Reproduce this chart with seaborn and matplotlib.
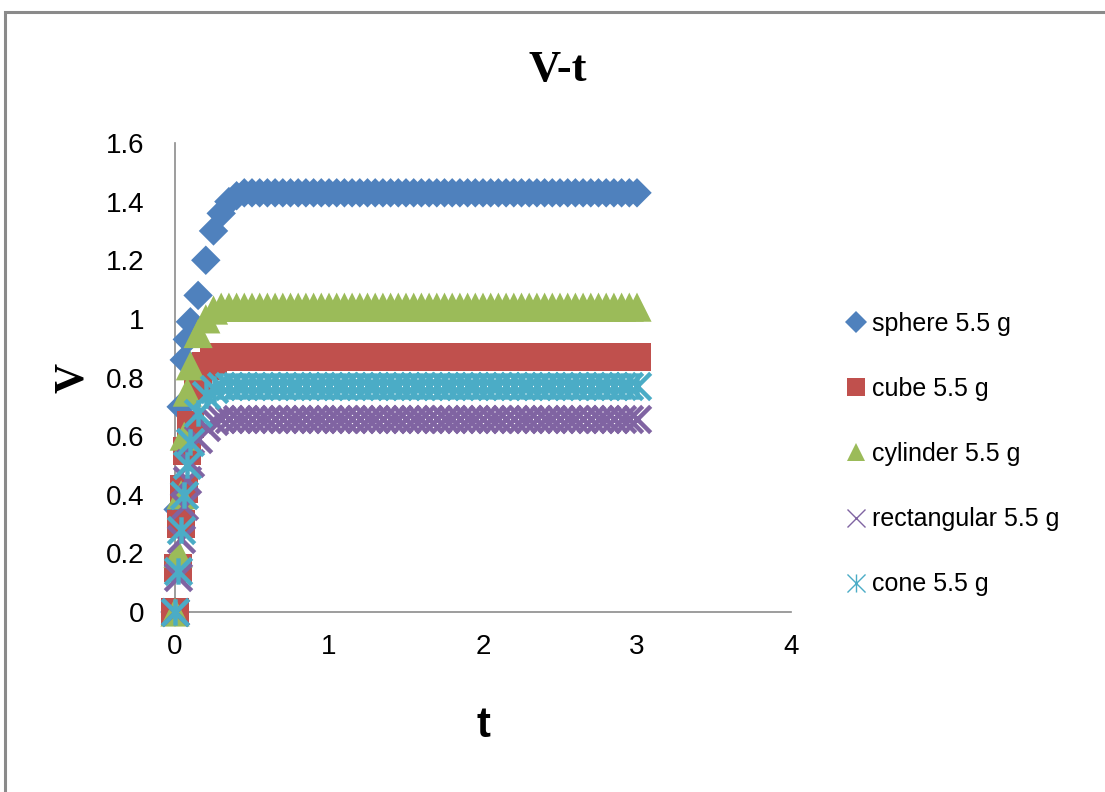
import matplotlib
matplotlib.use("Agg")
import matplotlib.pyplot as plt
import seaborn as sns
from matplotlib.path import Path
from matplotlib.lines import Line2D
from matplotlib.patches import Rectangle

# ---------------- data ----------------
t = [0.0, 0.02, 0.04, 0.06, 0.08, 0.1,
     0.15, 0.2, 0.25, 0.3, 0.35, 0.4, 0.45,
     0.5, 0.55, 0.6, 0.65, 0.7, 0.75, 0.8, 0.85, 0.9, 0.95,
     1.0, 1.05, 1.1, 1.15, 1.2, 1.25, 1.3, 1.35, 1.4, 1.45,
     1.5, 1.55, 1.6, 1.65, 1.7, 1.75, 1.8, 1.85, 1.9, 1.95,
     2.0, 2.05, 2.1, 2.15, 2.2, 2.25, 2.3, 2.35, 2.4, 2.45,
     2.5, 2.55, 2.6, 2.65, 2.7, 2.75, 2.8, 2.85, 2.9, 2.95,
     3.0]

sphere = [0.0, 0.35, 0.70, 0.86, 0.93, 0.99,
          1.08, 1.20, 1.30, 1.36, 1.40, 1.42, 1.43,
          1.43, 1.43, 1.43, 1.43, 1.43, 1.43, 1.43, 1.43, 1.43, 1.43,
          1.43, 1.43, 1.43, 1.43, 1.43, 1.43, 1.43, 1.43, 1.43, 1.43,
          1.43, 1.43, 1.43, 1.43, 1.43, 1.43, 1.43, 1.43, 1.43, 1.43,
          1.43, 1.43, 1.43, 1.43, 1.43, 1.43, 1.43, 1.43, 1.43, 1.43,
          1.43, 1.43, 1.43, 1.43, 1.43, 1.43, 1.43, 1.43, 1.43, 1.43,
          1.43]

cube = [0.0, 0.15, 0.30, 0.42, 0.55, 0.64,
        0.77, 0.84, 0.86, 0.87, 0.87, 0.87, 0.87,
        0.87, 0.87, 0.87, 0.87, 0.87, 0.87, 0.87, 0.87, 0.87, 0.87,
        0.87, 0.87, 0.87, 0.87, 0.87, 0.87, 0.87, 0.87, 0.87, 0.87,
        0.87, 0.87, 0.87, 0.87, 0.87, 0.87, 0.87, 0.87, 0.87, 0.87,
        0.87, 0.87, 0.87, 0.87, 0.87, 0.87, 0.87, 0.87, 0.87, 0.87,
        0.87, 0.87, 0.87, 0.87, 0.87, 0.87, 0.87, 0.87, 0.87, 0.87,
        0.87]

cylinder = [0.0, 0.20, 0.40, 0.60, 0.75, 0.84,
            0.95, 1.00, 1.03, 1.04, 1.04, 1.04, 1.04,
            1.04, 1.04, 1.04, 1.04, 1.04, 1.04, 1.04, 1.04, 1.04, 1.04,
            1.04, 1.04, 1.04, 1.04, 1.04, 1.04, 1.04, 1.04, 1.04, 1.04,
            1.04, 1.04, 1.04, 1.04, 1.04, 1.04, 1.04, 1.04, 1.04, 1.04,
            1.04, 1.04, 1.04, 1.04, 1.04, 1.04, 1.04, 1.04, 1.04, 1.04,
            1.04, 1.04, 1.04, 1.04, 1.04, 1.04, 1.04, 1.04, 1.04, 1.04,
            1.04]

rectangular = [0.0, 0.12, 0.25, 0.36, 0.45, 0.51,
               0.59, 0.63, 0.65, 0.66, 0.66, 0.66, 0.66,
               0.66, 0.66, 0.66, 0.66, 0.66, 0.66, 0.66, 0.66, 0.66, 0.66,
               0.66, 0.66, 0.66, 0.66, 0.66, 0.66, 0.66, 0.66, 0.66, 0.66,
               0.66, 0.66, 0.66, 0.66, 0.66, 0.66, 0.66, 0.66, 0.66, 0.66,
               0.66, 0.66, 0.66, 0.66, 0.66, 0.66, 0.66, 0.66, 0.66, 0.66,
               0.66, 0.66, 0.66, 0.66, 0.66, 0.66, 0.66, 0.66, 0.66, 0.66,
               0.66]

cone = [0.0, 0.14, 0.28, 0.40, 0.50, 0.58,
        0.68, 0.74, 0.76, 0.77, 0.77, 0.77, 0.77,
        0.77, 0.77, 0.77, 0.77, 0.77, 0.77, 0.77, 0.77, 0.77, 0.77,
        0.77, 0.77, 0.77, 0.77, 0.77, 0.77, 0.77, 0.77, 0.77, 0.77,
        0.77, 0.77, 0.77, 0.77, 0.77, 0.77, 0.77, 0.77, 0.77, 0.77,
        0.77, 0.77, 0.77, 0.77, 0.77, 0.77, 0.77, 0.77, 0.77, 0.77,
        0.77, 0.77, 0.77, 0.77, 0.77, 0.77, 0.77, 0.77, 0.77, 0.77,
        0.77]

series_names = ["sphere 5.5 g", "cube 5.5 g", "cylinder 5.5 g",
                "rectangular 5.5 g", "cone 5.5 g"]
series_values = [sphere, cube, cylinder, rectangular, cone]

x_ticks = [0, 1, 2, 3, 4]
y_ticks = [0, 0.2, 0.4, 0.6, 0.8, 1.0, 1.2, 1.4, 1.6]
y_tick_labels = ["0", "0.2", "0.4", "0.6", "0.8", "1", "1.2", "1.4", "1.6"]

title = "V-t"
x_label = "t"
y_label = "V"

# ---------------- styles ----------------
colors = ["#4F81BD", "#C0504D", "#9BBB59", "#8064A2", "#4BACC6"]
star_marker = Path([(-1, -1), (1, 1), (-1, 1), (1, -1), (0, -1), (0, 1)],
                   [Path.MOVETO, Path.LINETO] * 3)
markers = ["D", "s", "^", "x", star_marker]
plot_ms = [15.0, 20.0, 21.0, 19.0, 19.0]        # marker size in points
plot_lw = [0, 0, 0, 3.2, 3.2]
legend_ms = [11.0, 13.0, 13.0, 13.0, 13.0]
legend_lw = [0, 0, 0, 1.0, 1.0]
kinds = ["fill", "fill", "fill", "line", "path"]

sns.set_theme(style="white")
plt.rcParams["font.family"] = ["Liberation Sans", "DejaVu Sans"]
plt.rcParams["text.color"] = "black"
plt.rcParams["axes.labelcolor"] = "black"
plt.rcParams["xtick.color"] = "black"
plt.rcParams["ytick.color"] = "black"

W, H = 1105, 792
fig = plt.figure(figsize=(W / 100, H / 100), dpi=100)
ax = fig.add_axes([175 / W, 1 - 612 / H, (791 - 175) / W, (612 - 143) / H])

for vals, c, m, ms, lw, k in zip(series_values, colors, markers, plot_ms, plot_lw, kinds):
    if k == "fill":
        sns.scatterplot(x=t, y=vals, marker=m, s=ms ** 2, color=c,
                        edgecolor="none", linewidth=0, ax=ax,
                        clip_on=False, legend=False, zorder=3)
    elif k == "line":
        sns.scatterplot(x=t, y=vals, marker=m, s=ms ** 2, color=c,
                        linewidth=lw, ax=ax,
                        clip_on=False, legend=False, zorder=3)
    else:
        sns.scatterplot(x=t, y=vals, marker=m, s=ms ** 2, color=c,
                        edgecolor=c, linewidth=lw, ax=ax,
                        clip_on=False, legend=False, zorder=3)

ax.set_xlim(0, 4)
ax.set_ylim(0, 1.6)
ax.set_xticks(x_ticks)
ax.set_xticklabels([str(v) for v in x_ticks])
ax.set_yticks(y_ticks)
ax.set_yticklabels(y_tick_labels)
ax.tick_params(axis="both", length=0, labelsize=20, colors="#000000")
ax.tick_params(axis="y", pad=22)
ax.tick_params(axis="x", pad=16)
ax.grid(False)
for side in ["top", "right"]:
    ax.spines[side].set_visible(False)
for side in ["left", "bottom"]:
    ax.spines[side].set_color("#8C8C8C")
    ax.spines[side].set_linewidth(1.2)
ax.set_facecolor("white")

ax.set_xlabel(x_label, fontsize=30, fontweight="bold", color="black")
ax.xaxis.set_label_coords(0.5, -0.20)
ax.set_ylabel(y_label, fontsize=30, fontweight="bold", color="black",
              family=["Liberation Serif", "DejaVu Serif"])
ax.yaxis.set_label_coords((73 - 175) / 616, 0.5)
ax.yaxis.label.set_va("center")

fig.suptitle(title, x=558 / W, y=1 - 70 / H, va="center", ha="center",
             fontsize=32, fontweight="bold", color="black",
             family=["Liberation Serif", "DejaVu Serif"])

handles = []
for c, m, ms, lw, k in zip(colors, markers, legend_ms, legend_lw, kinds):
    if k == "fill":
        h = Line2D([], [], linestyle="none", marker=m, markersize=ms,
                   markerfacecolor=c, markeredgecolor=c, markeredgewidth=0)
    else:
        h = Line2D([], [], linestyle="none", marker=m, markersize=ms,
                   markerfacecolor="none", markeredgecolor=c, markeredgewidth=lw)
    handles.append(h)

leg = fig.legend(handles, series_names, loc="center left",
                 bbox_to_anchor=(843 / W, 1 - 454 / H), frameon=False,
                 fontsize=18, handlelength=1.0, handletextpad=0.15,
                 labelspacing=1.65, borderpad=0, borderaxespad=0)
for txt in leg.get_texts():
    txt.set_color("black")

fig.add_artist(Rectangle((5 / W, -0.1), 1.2, 1 - 12 / H + 0.1,
                         transform=fig.transFigure, fill=False,
                         edgecolor="#8A8A8A", linewidth=2.2, clip_on=False))

fig.savefig("out.png", dpi=100, facecolor="white")
